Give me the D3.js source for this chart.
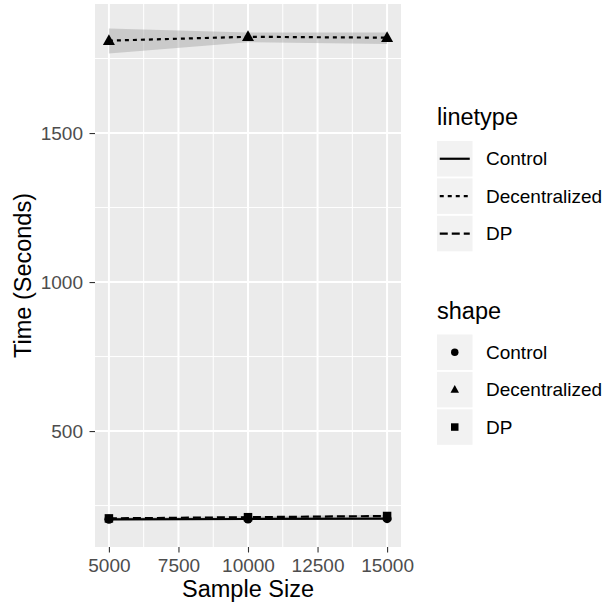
<!DOCTYPE html>
<html>
<head>
<meta charset="utf-8">
<script src="https://cdn.jsdelivr.net/npm/d3@7"></script>
<style>
  html, body { margin: 0; padding: 0; background: #ffffff; }
  svg { display: block; font-family: "Liberation Sans", Arial, Helvetica, sans-serif; }
</style>
</head>
<body>
<svg id="chart" width="603" height="609"></svg>
<script>
// Run time by sample size for three training setups
const sampleSizes = [5000, 10000, 15000];
const seriesNames = ["Control", "Decentralized", "DP"];
const controlTime = [204, 205, 206];
const decentralizedTime = [1810, 1823, 1820];
const dpTime = [207, 211, 215];
// spread bands (low / high) around each series
const controlLow = [200, 202, 202];
const controlHigh = [208, 208, 210];
const decentralizedLow = [1767, 1805, 1799];
const decentralizedHigh = [1851, 1837, 1837];
const dpLow = [204, 208, 211];
const dpHigh = [210, 214, 219];
const xTicks = [5000, 7500, 10000, 12500, 15000];
const xMinor = [6250, 8750, 11250, 13750];
const yTicks = [500, 1000, 1500];
const yMinor = [250, 750, 1250, 1750];

const series = [
  { name: "Control", values: controlTime, low: controlLow, high: controlHigh, dash: null, shape: "circle" },
  { name: "Decentralized", values: decentralizedTime, low: decentralizedLow, high: decentralizedHigh, dash: "4,4", shape: "triangle" },
  { name: "DP", values: dpTime, low: dpLow, high: dpHigh, dash: "8,4", shape: "square" }
];

const smallFont = 19, titleFont = 23.5;

const svg = d3.select("#chart");
const panel = { left: 95, right: 401, top: 4, bottom: 547 };

const x = d3.scaleLinear().domain([4500, 15500]).range([panel.left, panel.right]);
const y = d3.scaleLinear().domain([111, 1933]).range([panel.bottom, panel.top]);

// panel background
svg.append("rect")
  .attr("x", panel.left).attr("y", panel.top)
  .attr("width", panel.right - panel.left).attr("height", panel.bottom - panel.top)
  .attr("fill", "#EBEBEB");

const grid = svg.append("g");
grid.selectAll(".xminor").data(xMinor).join("line")
  .attr("x1", d => x(d)).attr("x2", d => x(d))
  .attr("y1", panel.top).attr("y2", panel.bottom)
  .attr("stroke", "#fff").attr("stroke-width", 1);
grid.selectAll(".yminor").data(yMinor.filter(v => y(v) > panel.top && y(v) < panel.bottom)).join("line")
  .attr("x1", panel.left).attr("x2", panel.right)
  .attr("y1", d => y(d)).attr("y2", d => y(d))
  .attr("stroke", "#fff").attr("stroke-width", 1);
grid.selectAll(".xmajor").data(xTicks).join("line")
  .attr("x1", d => x(d)).attr("x2", d => x(d))
  .attr("y1", panel.top).attr("y2", panel.bottom)
  .attr("stroke", "#fff").attr("stroke-width", 2);
grid.selectAll(".ymajor").data(yTicks).join("line")
  .attr("x1", panel.left).attr("x2", panel.right)
  .attr("y1", d => y(d)).attr("y2", d => y(d))
  .attr("stroke", "#fff").attr("stroke-width", 2);

// bands
const area = d3.area()
  .x(d => x(d.x)).y0(d => y(d.lo)).y1(d => y(d.hi));
series.forEach(s => {
  const pts = sampleSizes.map((v, i) => ({ x: v, lo: s.low[i], hi: s.high[i] }));
  svg.append("path").attr("d", area(pts))
    .attr("fill", "#999999").attr("fill-opacity", 0.4);
});

// lines
const line = d3.line().x(d => x(d.x)).y(d => y(d.y));
series.forEach(s => {
  const pts = sampleSizes.map((v, i) => ({ x: v, y: s.values[i] }));
  svg.append("path").attr("d", line(pts))
    .attr("fill", "none").attr("stroke", "#000")
    .attr("stroke-width", 2.2)
    .attr("stroke-dasharray", s.dash);
});

function drawShape(g, shape, cx, cy, size) {
  if (shape === "circle") {
    g.append("circle").attr("cx", cx).attr("cy", cy).attr("r", size / 2).attr("fill", "#000");
  } else if (shape === "square") {
    g.append("rect").attr("x", cx - size / 2).attr("y", cy - size / 2)
      .attr("width", size).attr("height", size).attr("fill", "#000");
  } else {
    const h = size * 0.9;
    g.append("path")
      .attr("d", `M${cx},${cy - h * 0.6}L${cx + size / 2},${cy + h * 0.4}L${cx - size / 2},${cy + h * 0.4}Z`)
      .attr("fill", "#000");
  }
}

// points
const pointSize = { circle: 9, square: 8.5, triangle: 12 };
series.forEach(s => {
  sampleSizes.forEach((v, i) => {
    drawShape(svg, s.shape, x(v), y(s.values[i]), pointSize[s.shape]);
  });
});

// axes
const xAxis = svg.append("g").attr("transform", `translate(0,${panel.bottom})`)
  .call(d3.axisBottom(x).tickValues(xTicks).tickSize(5.5).tickPadding(6).tickFormat(d3.format("d")));
const yAxis = svg.append("g").attr("transform", `translate(${panel.left},0)`)
  .call(d3.axisLeft(y).tickValues(yTicks).tickSize(5.5).tickPadding(6.5).tickFormat(d3.format("d")));
[xAxis, yAxis].forEach(a => {
  a.select(".domain").remove();
  a.selectAll(".tick line").attr("stroke", "#333333").attr("stroke-width", 1.1);
  a.selectAll(".tick text").attr("fill", "#4D4D4D")
    .attr("font-size", smallFont).attr("font-family", "Liberation Sans, Arial, sans-serif");
});

// axis titles
svg.append("text")
  .attr("x", (panel.left + panel.right) / 2).attr("y", 597)
  .attr("text-anchor", "middle").attr("font-size", titleFont).attr("fill", "#000")
  .text("Sample Size");
svg.append("text")
  .attr("transform", `translate(31,${(panel.top + panel.bottom) / 2}) rotate(-90)`)
  .attr("text-anchor", "middle").attr("font-size", titleFont).attr("fill", "#000")
  .text("Time (Seconds)");

// legends
const keyX = 437, keyW = 35.5, keyH = 35.5, keyStep = 37.4, labelX = 486;

function legend(title, titleY, firstKeyY, drawKey) {
  const g = svg.append("g");
  g.append("text").attr("x", keyX).attr("y", titleY)
    .attr("font-size", titleFont).attr("fill", "#000").text(title);
  seriesNames.forEach((name, i) => {
    const ky = firstKeyY + i * keyStep;
    g.append("rect").attr("x", keyX).attr("y", ky).attr("width", keyW).attr("height", keyH)
      .attr("fill", "#F2F2F2");
    drawKey(g, series[i], keyX + keyW / 2, ky + keyH / 2);
    g.append("text").attr("x", labelX).attr("y", ky + keyH / 2)
      .attr("dy", "0.35em").attr("font-size", smallFont).attr("fill", "#000").text(name);
  });
}

legend("linetype", 125, 141, (g, s, cx, cy) => {
  g.append("line").attr("x1", cx - 15).attr("x2", cx + 15).attr("y1", cy).attr("y2", cy)
    .attr("stroke", "#000").attr("stroke-width", 2.2).attr("stroke-dasharray", s.dash);
});
legend("shape", 319, 334.5, (g, s, cx, cy) => {
  drawShape(g, s.shape, cx, cy, s.shape === "triangle" ? 8.5 : 7.5);
});
</script>
</body>
</html>
